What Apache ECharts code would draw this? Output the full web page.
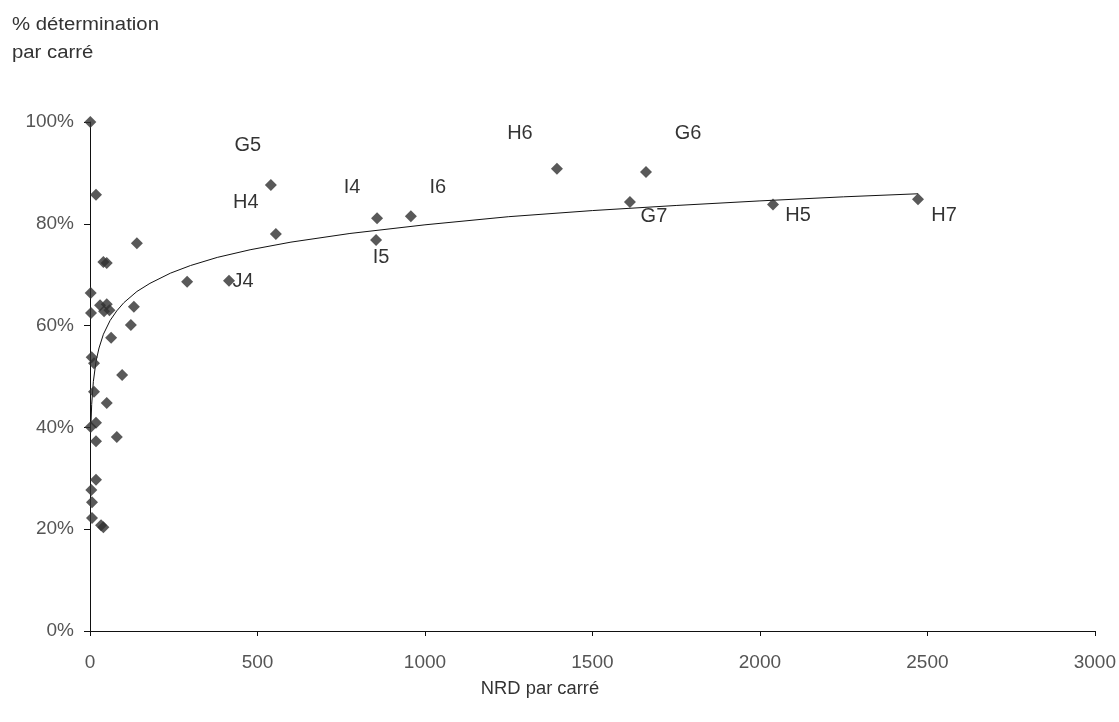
<!DOCTYPE html>
<html><head><meta charset="utf-8">
<script src="https://cdn.jsdelivr.net/npm/echarts@6/dist/echarts.min.js"></script>
<style>html,body{margin:0;padding:0;background:#fff}#c{width:1119px;height:722px}</style>
</head><body><div id="c"></div>
<script>
// Unlabelled points: NRD par carré, % détermination
const nrd = [1, 18, 140, 40, 50, 2, 30, 50, 42, 58, 3, 131, 122, 63, 5, 12, 96, 12, 50, 2, 18, 18, 80, 18, 4, 6, 6, 33, 40, 290];
const pct = [100, 85.7, 76.2, 72.5, 72.3, 66.4, 64, 64.2, 62.8, 63, 62.5, 63.7, 60.1, 57.6, 53.8, 52.6, 50.3, 47, 44.8, 40.1, 40.9, 37.3, 38.1, 29.7, 27.7, 25.3, 22.2, 20.8, 20.4, 68.6];
// Labelled points
const labNames = ['G5', 'H4', 'I4', 'I5', 'I6', 'J4', 'H6', 'G6', 'G7', 'H5', 'H7'];
const labNrd = [540, 555, 857, 854, 958, 415, 1394, 1660, 1612, 2039, 2472];
const labPct = [87.6, 78, 81.1, 76.8, 81.5, 68.8, 90.8, 90.2, 84.3, 83.8, 84.8];
// Logarithmic trend line
const trendX = [3, 5, 10, 18, 27, 40, 60, 80, 101, 140, 179, 240, 300, 380, 478, 600, 776, 1000, 1250, 1500, 1750, 2000, 2250, 2472];
const trendY = [40.9, 44.5, 49, 53, 55.6, 58.3, 61, 62.9, 64.5, 66.7, 68.3, 70.3, 71.8, 73.4, 74.9, 76.4, 78.1, 79.8, 81.4, 82.6, 83.6, 84.5, 85.3, 85.9];
const xTicks = [0, 500, 1000, 1500, 2000, 2500, 3000];
const yTicks = [0, 20, 40, 60, 80, 100];
const yTitle = '% détermination\npar carré';
const xTitle = 'NRD par carré';

// label offsets (styling only)
const labOffset = {G5:[-23,-40], H4:[-30,-31], I4:[-25,-31], I5:[5,17], I6:[27,-29], J4:[14,1], H6:[-37,-35], G6:[42,-38], G7:[24,15], H5:[25,11], H7:[26,16]};

const font = 'Liberation Sans, Arial, sans-serif';
const chart = echarts.init(document.getElementById('c'), null, {renderer: 'canvas'});
const pts = nrd.map((x, i) => [x, pct[i]]);
const labPts = labNames.map((n, i) => ({
  value: [labNrd[i], labPct[i]],
  label: {show: true, formatter: n, position: 'inside', offset: labOffset[n], color: '#000', fontSize: 20, fontFamily: font}
}));
const trend = trendX.map((x, i) => [x, trendY[i]]);
const mark = {symbol: 'diamond', symbolSize: 12, itemStyle: {color: '#303030'}};

chart.setOption({
  animation: false,
  backgroundColor: '#fff',
  grid: {left: 90, right: 24, top: 122, bottom: 91, containLabel: false},
  graphic: [
    {type: 'text', left: 12, top: 11, scaleX: 1.13, style: {text: yTitle, fontSize: 18, lineHeight: 28, fill: '#333', fontFamily: font}},
    {type: 'text', x: 540, y: 689, scaleX: 1.02, style: {text: xTitle, fontSize: 18, fill: '#333', fontFamily: font, align: 'center', verticalAlign: 'middle'}}
  ],
  xAxis: {
    type: 'value', min: xTicks[0], max: xTicks[xTicks.length - 1], interval: 500,
    axisLine: {lineStyle: {color: '#111', width: 1}},
    axisTick: {show: true, length: 5, lineStyle: {color: '#111'}},
    axisLabel: {fontSize: 19, color: '#555', margin: 22, fontFamily: font, formatter: v => String(v)},
    splitLine: {show: false}
  },
  yAxis: {
    type: 'value', min: yTicks[0], max: yTicks[yTicks.length - 1], interval: 20,
    axisLine: {show: true, lineStyle: {color: '#111', width: 1}},
    axisTick: {show: true, length: 6, lineStyle: {color: '#111'}},
    axisLabel: {fontSize: 19, color: '#555', margin: 16, formatter: '{value}%', fontFamily: font},
    splitLine: {show: false}
  },
  series: [
    {type: 'line', data: trend, smooth: false, showSymbol: false, lineStyle: {color: '#111', width: 1}, z: 1},
    Object.assign({type: 'scatter', data: pts, z: 3}, mark),
    Object.assign({type: 'scatter', data: labPts, z: 3}, mark)
  ]
});
</script></body></html>
